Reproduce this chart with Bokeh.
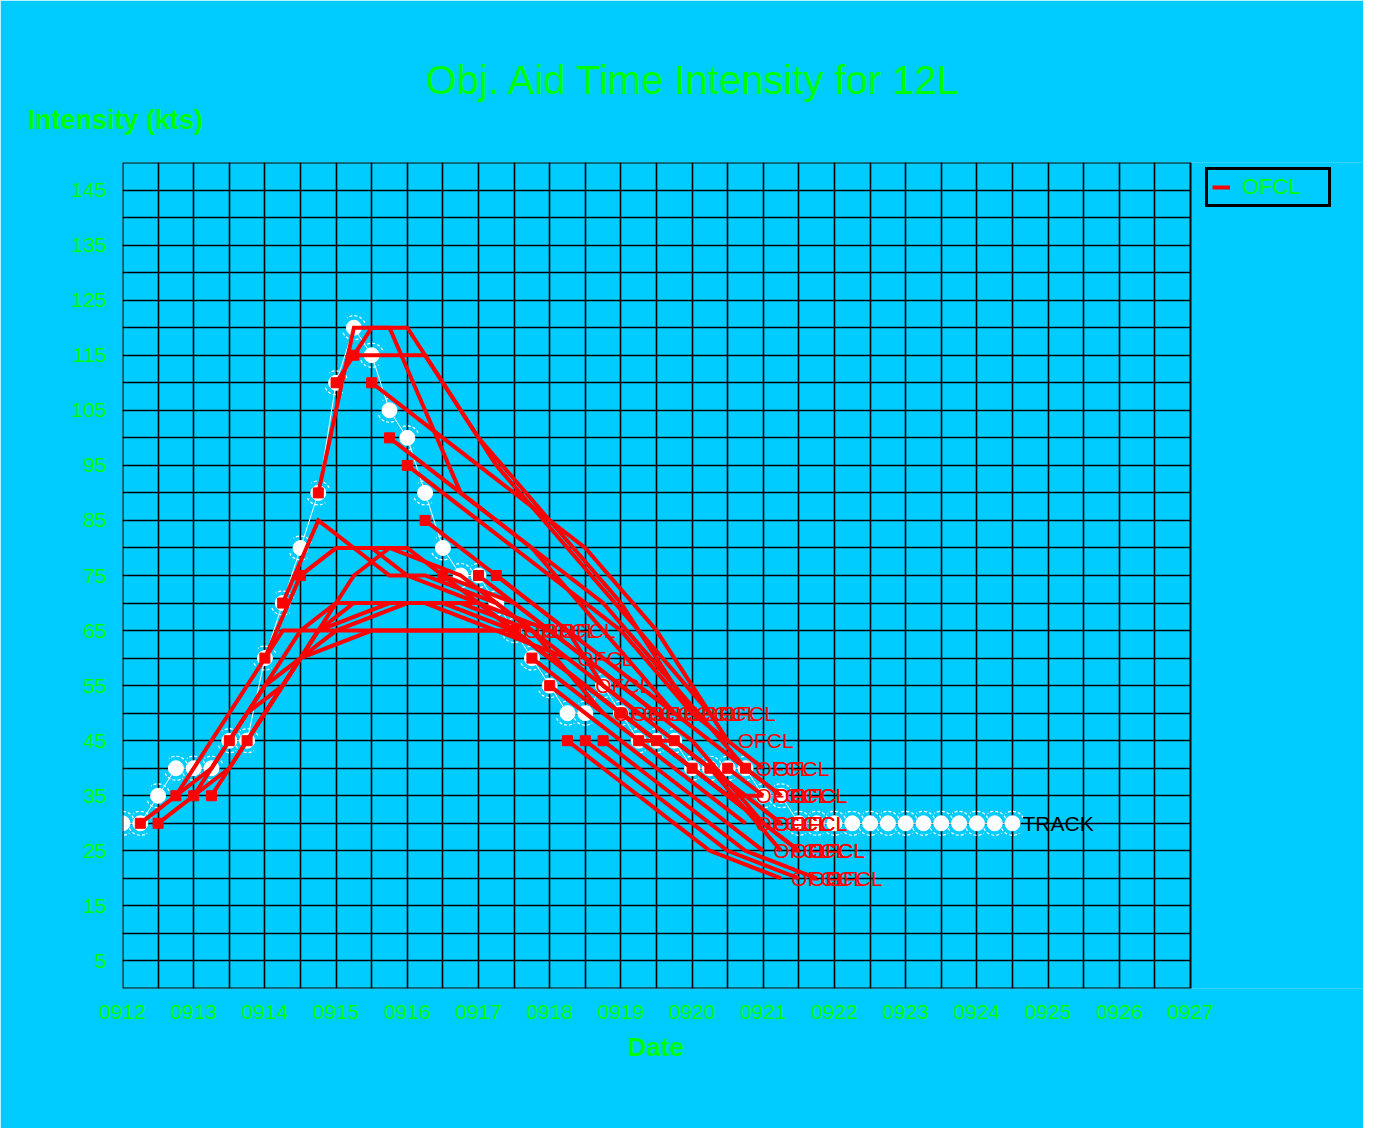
import numpy as np
from bokeh.plotting import figure
from bokeh.models import (BoxAnnotation, ColumnDataSource, FixedTicker, Legend, LegendItem,
                          Range1d, Title)
from bokeh.core.properties import value
from bokeh.embed import file_html
from bokeh.resources import INLINE

# ---------------- data ----------------
DATE_LABELS = ["0912", "0913", "0914", "0915", "0916", "0917", "0918", "0919",
               "0920", "0921", "0922", "0923", "0924", "0925", "0926", "0927"]
Y_TICKS = [5, 15, 25, 35, 45, 55, 65, 75, 85, 95, 105, 115, 125, 135, 145]

# best track intensity (kt), every 6 h from 0912 00Z
TRACK_KT = [30, 30, 35, 40, 40, 40, 45, 45, 60, 70, 80, 90, 110, 120, 115, 105,
            100, 90, 80, 75, 75, 70, 65, 60, 55, 50, 50, 55, 50, 45, 45, 45,
            40, 40, 40, 40, 35, 35, 30, 30, 30, 30, 30, 30, 30, 30, 30, 30,
            30, 30, 30]

# official forecasts: start hour (from 0912 00Z) and intensities at TAU_HOURS
TAU_HOURS = [0, 12, 24, 36, 48, 72, 96, 120]
FCST_START_HOURS = [6, 12, 18, 24, 30, 36, 42, 48, 54, 60, 66, 72, 78, 84, 90, 96,
                    102, 108, 120, 126, 132, 138, 144, 150, 156, 162, 168, 174,
                    180, 186, 192, 198, 204, 210]
FCST_KT = [
    [30, 35, 45, 55, 65, 65, 65, 65],
    [30, 35, 45, 55, 60, 65, 65, 65],
    [35, 40, 50, 55, 65, 70, 70, 65],
    [35, 40, 50, 60, 65, 70, 70, 65],
    [35, 45, 55, 65, 70, 70, 65, 60],
    [45, 55, 65, 70, 70, 70, 65, 55],
    [45, 55, 65, 75, 80, 75, 65, 50],
    [60, 75, 80, 80, 75, 70, 60, 50],
    [70, 85, 80, 75, 75, 70, 60, 50],
    [75, 80, 80, 80, 75, 70, 60, 50],
    [90, 120, 120, 105, 90, 80, 65, 50],
    [110, 120, 120, 110, 100, 85, 70, 50],
    [115, 115, 115, 105, 95, 80, 65, 50],
    [110, 105, 100, 95, 90, 80, 65, 45],
    [100, 95, 90, 85, 80, 70, 55, 40],
    [95, 90, 85, 80, 75, 65, 50, 40],
    [85, 80, 75, 70, 65, 55, 45, 35],
    [75, 70, 65, 60, 55, 45, 35, 25],
    [75, 70, 65, 60, 55, 45, 30],
    [75, 70, 65, 55, 50, 40, 25],
    [65, 60, 55, 50, 45, 35, 25],
    [60, 55, 50, 45, 40, 30],
    [55, 50, 45, 40, 35, 25],
    [45, 40, 35, 30, 25, 20],
    [45, 40, 35, 30, 25, 20],
    [45, 40, 35, 30, 25, 20],
    [50, 45, 40, 35, 30],
    [45, 45, 40, 35, 30],
    [45, 40, 35, 30],
    [45, 40, 35],
    [40, 35, 35],
    [40, 35, 30],
    [40, 35],
    [40, 35],
]

# ---------------- style ----------------
BG = "#00CCFF"
GREEN = "#00FF00"
FONT = "Liberation Sans"

W, H = 1363, 1128
FRAME_LEFT, FRAME_RIGHT, AXIS_RIGHT = 122, W, 1190   # page pixels
X_END = 15 * (FRAME_RIGHT - FRAME_LEFT) / (AXIS_RIGHT - FRAME_LEFT)

p = figure(width=W, height=H, output_backend="svg", toolbar_location=None,
           x_range=Range1d(0, X_END), y_range=Range1d(0, 150),
           min_border_left=FRAME_LEFT, min_border_right=W - FRAME_RIGHT,
           min_border_top=162, min_border_bottom=140, background_fill_color=BG,
           border_fill_color=BG, tools="", title=None)
p.outline_line_color = None

# grids (outer lines come from the border box)
p.xgrid.ticker = FixedTicker(ticks=list(np.arange(0.5, 14.51, 0.5)))
p.ygrid.ticker = FixedTicker(ticks=list(np.arange(5, 145.1, 5)))
for g in (p.xgrid, p.ygrid):
    g.grid_line_color = "black"
    g.grid_line_width = 1.6
    g.grid_line_alpha = 1.0

# axes
p.xaxis.ticker = FixedTicker(ticks=list(range(len(DATE_LABELS))))
p.xaxis.major_label_overrides = {i: s for i, s in enumerate(DATE_LABELS)}
p.yaxis.ticker = FixedTicker(ticks=Y_TICKS)
for ax in (p.xaxis, p.yaxis):
    ax.axis_line_color = None
    ax.major_tick_line_color = None
    ax.minor_tick_line_color = None
    ax.major_label_text_color = GREEN
    ax.major_label_text_font = FONT
    ax.major_label_text_font_size = "21px"
    ax.major_label_standoff = 10

# best track
tx = [6 * i / 24 for i in range(len(TRACK_KT))]
tsrc = ColumnDataSource(dict(x=tx, y=TRACK_KT))
p.line("x", "y", source=tsrc, line_color="white", line_width=1)
p.arc("x", "y", source=tsrc, radius=12, radius_units="screen",
      start_angle=np.radians(25), end_angle=np.radians(125),
      line_color="white", line_width=1.2, line_dash="3 2")
p.arc("x", "y", source=tsrc, radius=12, radius_units="screen",
      start_angle=np.radians(205), end_angle=np.radians(305),
      line_color="white", line_width=1.2, line_dash="3 2")
p.scatter("x", "y", source=tsrc, size=15, marker="circle", fill_color="white",
          line_color="white")

# forecasts
xs, ys, sx, sy, ex, ey = [], [], [], [], [], []
for start, kts in zip(FCST_START_HOURS, FCST_KT):
    fx = [(start + t) / 24 for t in TAU_HOURS[:len(kts)]]
    xs.append(fx)
    ys.append(kts)
    sx.append(fx[0]); sy.append(kts[0])
    ex.append(fx[-1]); ey.append(kts[-1])
ml = p.multi_line(xs, ys, line_color="red", line_width=4, line_join="miter")
p.scatter(sx, sy, marker="square", size=10, fill_color="red", line_color="red")
esrc = ColumnDataSource(dict(x=ex, y=ey, t=["OFCL"] * len(ex)))
p.text("x", "y", text="t", source=esrc, x_offset=10, text_baseline="middle",
       text_color="red", text_font=value(FONT), text_font_size=value("21px"))
p.text([tx[-1]], [TRACK_KT[-1]], text=["TRACK"], x_offset=10, text_baseline="middle",
       text_color="black", text_font=value(FONT), text_font_size=value("21px"))

# blank out the strip right of the date axis (it holds the legend) and draw the border
p.add_layout(BoxAnnotation(left=15, fill_color=BG, fill_alpha=1, line_color=None))
p.add_layout(BoxAnnotation(left=0, right=15, bottom=0, top=150, fill_alpha=0,
                           line_color="black", line_width=2, line_alpha=1))

# titles (first added sits nearest the frame)
p.add_layout(Title(text="Intensity (kts)", align="left", offset=-95, standoff=56,
                   text_color=GREEN, text_font=FONT, text_font_size="27px",
                   text_font_style="bold"), "above")
p.add_layout(Title(text="Obj. Aid Time Intensity for 12L", align="left", offset=303,
                   standoff=-55, text_color=GREEN, text_font=FONT,
                   text_font_size="40px", text_font_style="normal"), "above")
p.add_layout(Title(text="Date", align="left", offset=505, standoff=16,
                   text_color=GREEN, text_font=FONT, text_font_size="26px",
                   text_font_style="bold"), "below")

legend = Legend(items=[LegendItem(label="OFCL", renderers=[ml])],
                location=(1083, 781),
                border_line_color="black", border_line_width=3, border_line_alpha=1,
                background_fill_color=BG, background_fill_alpha=1,
                label_text_color=GREEN, label_text_font=FONT, label_text_font_size="22px",
                glyph_width=18, glyph_height=16, label_height=16, label_standoff=12,
                padding=4, margin=0, label_width=82, spacing=0)
p.add_layout(legend)

open("out.html", "w").write(file_html(p, INLINE))
